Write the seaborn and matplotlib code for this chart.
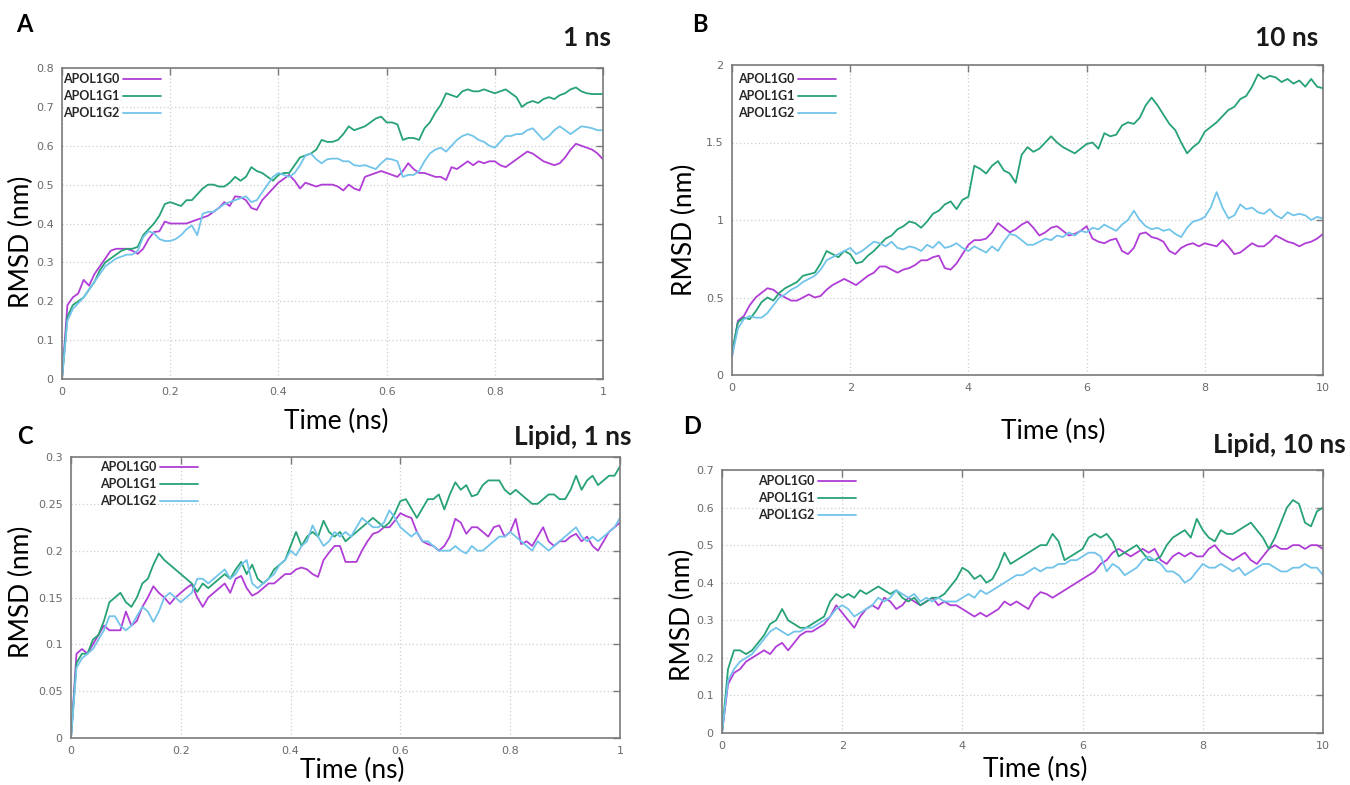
import matplotlib
matplotlib.use("Agg")
import matplotlib.pyplot as plt
import seaborn as sns
from matplotlib.ticker import MultipleLocator, FormatStrFormatter

# ---------------- data ----------------
series_names = ["APOL1G0", "APOL1G1", "APOL1G2"]
series_colors = ["#b03ed6", "#27a274", "#72c4ea"]

time_1ns = [0.00, 0.01, 0.02, 0.03, 0.04, 0.05, 0.06, 0.07, 0.08, 0.09,
            0.10, 0.11, 0.12, 0.13, 0.14, 0.15, 0.16, 0.17, 0.18, 0.19,
            0.20, 0.21, 0.22, 0.23, 0.24, 0.25, 0.26, 0.27, 0.28, 0.29,
            0.30, 0.31, 0.32, 0.33, 0.34, 0.35, 0.36, 0.37, 0.38, 0.39,
            0.40, 0.41, 0.42, 0.43, 0.44, 0.45, 0.46, 0.47, 0.48, 0.49,
            0.50, 0.51, 0.52, 0.53, 0.54, 0.55, 0.56, 0.57, 0.58, 0.59,
            0.60, 0.61, 0.62, 0.63, 0.64, 0.65, 0.66, 0.67, 0.68, 0.69,
            0.70, 0.71, 0.72, 0.73, 0.74, 0.75, 0.76, 0.77, 0.78, 0.79,
            0.80, 0.81, 0.82, 0.83, 0.84, 0.85, 0.86, 0.87, 0.88, 0.89,
            0.90, 0.91, 0.92, 0.93, 0.94, 0.95, 0.96, 0.97, 0.98, 0.99,
            1.00]

time_10ns = [0.0, 0.1, 0.2, 0.3, 0.4, 0.5, 0.6, 0.7, 0.8, 0.9,
             1.0, 1.1, 1.2, 1.3, 1.4, 1.5, 1.6, 1.7, 1.8, 1.9,
             2.0, 2.1, 2.2, 2.3, 2.4, 2.5, 2.6, 2.7, 2.8, 2.9,
             3.0, 3.1, 3.2, 3.3, 3.4, 3.5, 3.6, 3.7, 3.8, 3.9,
             4.0, 4.1, 4.2, 4.3, 4.4, 4.5, 4.6, 4.7, 4.8, 4.9,
             5.0, 5.1, 5.2, 5.3, 5.4, 5.5, 5.6, 5.7, 5.8, 5.9,
             6.0, 6.1, 6.2, 6.3, 6.4, 6.5, 6.6, 6.7, 6.8, 6.9,
             7.0, 7.1, 7.2, 7.3, 7.4, 7.5, 7.6, 7.7, 7.8, 7.9,
             8.0, 8.1, 8.2, 8.3, 8.4, 8.5, 8.6, 8.7, 8.8, 8.9,
             9.0, 9.1, 9.2, 9.3, 9.4, 9.5, 9.6, 9.7, 9.8, 9.9,
             10.0]

# Panel A: protein, 1 ns
a_g0 = [0, 0.19, 0.21, 0.22, 0.255, 0.24, 0.27, 0.29, 0.31, 0.33,
        0.335, 0.335, 0.335, 0.33, 0.322, 0.335, 0.36, 0.378, 0.38, 0.405,
        0.40, 0.40, 0.40, 0.40, 0.405, 0.41, 0.415, 0.42, 0.43, 0.44,
        0.455, 0.445, 0.47, 0.468, 0.46, 0.44, 0.435, 0.46, 0.475, 0.49,
        0.505, 0.515, 0.525, 0.51, 0.49, 0.505, 0.50, 0.495, 0.50, 0.50,
        0.50, 0.495, 0.485, 0.50, 0.49, 0.485, 0.52, 0.525, 0.53, 0.535,
        0.53, 0.525, 0.52, 0.535, 0.555, 0.54, 0.53, 0.53, 0.525, 0.52,
        0.52, 0.512, 0.545, 0.54, 0.55, 0.56, 0.55, 0.56, 0.555, 0.56,
        0.56, 0.55, 0.545, 0.555, 0.565, 0.575, 0.585, 0.58, 0.57, 0.56,
        0.555, 0.55, 0.555, 0.57, 0.59, 0.605, 0.60, 0.595, 0.59, 0.58,
        0.565]
a_g1 = [0, 0.16, 0.19, 0.20, 0.21, 0.23, 0.25, 0.28, 0.30, 0.31,
        0.32, 0.33, 0.335, 0.335, 0.34, 0.37, 0.385, 0.40, 0.42, 0.45,
        0.455, 0.45, 0.445, 0.46, 0.46, 0.475, 0.49, 0.50, 0.50, 0.495,
        0.495, 0.505, 0.52, 0.51, 0.52, 0.545, 0.535, 0.53, 0.52, 0.51,
        0.525, 0.53, 0.53, 0.55, 0.57, 0.575, 0.58, 0.59, 0.615, 0.61,
        0.61, 0.615, 0.63, 0.65, 0.64, 0.645, 0.65, 0.66, 0.67, 0.675,
        0.66, 0.66, 0.655, 0.615, 0.62, 0.62, 0.615, 0.645, 0.66, 0.685,
        0.705, 0.735, 0.73, 0.725, 0.74, 0.745, 0.74, 0.74, 0.745, 0.74,
        0.735, 0.74, 0.745, 0.735, 0.725, 0.70, 0.71, 0.715, 0.71, 0.72,
        0.725, 0.72, 0.73, 0.735, 0.745, 0.75, 0.74, 0.735, 0.733, 0.733,
        0.733]
a_g2 = [0, 0.15, 0.18, 0.195, 0.21, 0.23, 0.25, 0.27, 0.29, 0.30,
        0.31, 0.315, 0.32, 0.32, 0.33, 0.365, 0.38, 0.375, 0.36, 0.355,
        0.355, 0.36, 0.37, 0.385, 0.395, 0.37, 0.425, 0.43, 0.43, 0.44,
        0.45, 0.455, 0.46, 0.465, 0.47, 0.455, 0.46, 0.48, 0.50, 0.52,
        0.53, 0.525, 0.52, 0.53, 0.55, 0.575, 0.58, 0.565, 0.555, 0.565,
        0.567, 0.567, 0.56, 0.56, 0.55, 0.548, 0.55, 0.545, 0.54, 0.555,
        0.567, 0.565, 0.56, 0.52, 0.525, 0.525, 0.535, 0.56, 0.58, 0.59,
        0.595, 0.585, 0.60, 0.615, 0.625, 0.63, 0.625, 0.615, 0.61, 0.60,
        0.595, 0.61, 0.625, 0.625, 0.63, 0.63, 0.64, 0.645, 0.63, 0.615,
        0.625, 0.64, 0.65, 0.64, 0.63, 0.64, 0.65, 0.648, 0.645, 0.64,
        0.64]

# Panel B: protein, 10 ns
b_g0 = [0.12, 0.35, 0.38, 0.45, 0.50, 0.53, 0.56, 0.55, 0.52, 0.50,
        0.48, 0.48, 0.50, 0.52, 0.50, 0.51, 0.55, 0.58, 0.60, 0.62,
        0.60, 0.58, 0.61, 0.64, 0.66, 0.70, 0.70, 0.68, 0.66, 0.68,
        0.69, 0.71, 0.74, 0.74, 0.76, 0.77, 0.69, 0.68, 0.72, 0.78,
        0.84, 0.87, 0.87, 0.88, 0.92, 0.98, 0.95, 0.92, 0.94, 0.97,
        0.99, 0.95, 0.90, 0.92, 0.95, 0.96, 0.93, 0.90, 0.91, 0.93,
        0.96, 0.88, 0.86, 0.85, 0.87, 0.88, 0.80, 0.78, 0.82, 0.91,
        0.92, 0.89, 0.88, 0.86, 0.80, 0.78, 0.82, 0.84, 0.85, 0.83,
        0.85, 0.84, 0.83, 0.87, 0.83, 0.78, 0.79, 0.82, 0.85, 0.83,
        0.83, 0.86, 0.90, 0.88, 0.86, 0.85, 0.83, 0.85, 0.86, 0.88,
        0.91]
b_g1 = [0.15, 0.34, 0.37, 0.36, 0.41, 0.47, 0.50, 0.48, 0.53, 0.56,
        0.58, 0.60, 0.64, 0.65, 0.66, 0.72, 0.80, 0.78, 0.76, 0.80,
        0.78, 0.72, 0.73, 0.77, 0.80, 0.84, 0.88, 0.90, 0.94, 0.96,
        0.99, 0.98, 0.95, 0.99, 1.04, 1.06, 1.10, 1.12, 1.07, 1.13,
        1.15, 1.35, 1.33, 1.30, 1.35, 1.38, 1.32, 1.30, 1.24, 1.42,
        1.47, 1.44, 1.46, 1.50, 1.54, 1.50, 1.47, 1.45, 1.43, 1.46,
        1.49, 1.50, 1.46, 1.56, 1.54, 1.55, 1.61, 1.63, 1.62, 1.66,
        1.74, 1.79, 1.74, 1.68, 1.62, 1.58, 1.50, 1.43, 1.47, 1.50,
        1.57, 1.60, 1.63, 1.67, 1.71, 1.73, 1.78, 1.80, 1.86, 1.94,
        1.91, 1.93, 1.92, 1.89, 1.91, 1.88, 1.90, 1.86, 1.91, 1.86,
        1.85]
b_g2 = [0.12, 0.30, 0.36, 0.38, 0.37, 0.37, 0.40, 0.45, 0.50, 0.52,
        0.55, 0.57, 0.60, 0.62, 0.64, 0.68, 0.74, 0.76, 0.78, 0.80,
        0.82, 0.78, 0.80, 0.83, 0.86, 0.85, 0.83, 0.86, 0.82, 0.81,
        0.83, 0.82, 0.80, 0.84, 0.82, 0.86, 0.82, 0.83, 0.85, 0.82,
        0.80, 0.83, 0.81, 0.79, 0.83, 0.80, 0.86, 0.91, 0.90, 0.87,
        0.84, 0.84, 0.86, 0.88, 0.87, 0.90, 0.89, 0.92, 0.90, 0.93,
        0.92, 0.95, 0.94, 0.97, 0.95, 0.93, 0.97, 1.00, 1.06, 1.00,
        0.96, 0.94, 0.95, 0.93, 0.94, 0.91, 0.89, 0.95, 0.99, 1.00,
        1.02, 1.08, 1.18, 1.08, 1.01, 1.03, 1.10, 1.07, 1.08, 1.05,
        1.04, 1.07, 1.03, 1.01, 1.05, 1.03, 1.04, 1.03, 1.00, 1.02,
        1.01]

# Panel C: lipid, 1 ns
c_g0 = [0, 0.09, 0.095, 0.09, 0.10, 0.11, 0.12, 0.115, 0.115, 0.115,
        0.135, 0.12, 0.125, 0.14, 0.15, 0.162, 0.155, 0.15, 0.143, 0.15,
        0.155, 0.16, 0.164, 0.15, 0.14, 0.15, 0.155, 0.16, 0.165, 0.155,
        0.17, 0.173, 0.16, 0.152, 0.155, 0.16, 0.165, 0.165, 0.17, 0.175,
        0.175, 0.18, 0.182, 0.18, 0.175, 0.172, 0.19, 0.198, 0.205, 0.205,
        0.188, 0.188, 0.188, 0.20, 0.21, 0.218, 0.22, 0.225, 0.225, 0.232,
        0.24, 0.237, 0.235, 0.22, 0.21, 0.207, 0.205, 0.20, 0.205, 0.215,
        0.234, 0.23, 0.218, 0.225, 0.225, 0.22, 0.215, 0.225, 0.227, 0.215,
        0.22, 0.234, 0.207, 0.21, 0.205, 0.215, 0.225, 0.21, 0.205, 0.21,
        0.21, 0.215, 0.218, 0.21, 0.215, 0.205, 0.20, 0.21, 0.22, 0.225,
        0.23]
c_g1 = [0, 0.08, 0.09, 0.09, 0.105, 0.11, 0.125, 0.145, 0.15, 0.155,
        0.145, 0.14, 0.15, 0.165, 0.17, 0.185, 0.197, 0.19, 0.185, 0.18,
        0.175, 0.17, 0.165, 0.156, 0.165, 0.16, 0.165, 0.17, 0.175, 0.17,
        0.18, 0.188, 0.175, 0.185, 0.17, 0.165, 0.17, 0.18, 0.185, 0.19,
        0.205, 0.22, 0.205, 0.215, 0.22, 0.215, 0.232, 0.22, 0.215, 0.22,
        0.21, 0.215, 0.22, 0.225, 0.23, 0.235, 0.23, 0.225, 0.23, 0.24,
        0.253, 0.255, 0.245, 0.235, 0.245, 0.255, 0.255, 0.26, 0.244, 0.26,
        0.273, 0.265, 0.27, 0.258, 0.26, 0.27, 0.275, 0.275, 0.275, 0.265,
        0.26, 0.265, 0.26, 0.255, 0.25, 0.25, 0.255, 0.26, 0.26, 0.255,
        0.255, 0.265, 0.28, 0.265, 0.275, 0.28, 0.27, 0.275, 0.28, 0.28,
        0.29]
c_g2 = [0, 0.075, 0.085, 0.09, 0.095, 0.105, 0.115, 0.13, 0.13, 0.12,
        0.115, 0.12, 0.13, 0.14, 0.135, 0.124, 0.135, 0.15, 0.155, 0.15,
        0.145, 0.15, 0.155, 0.17, 0.17, 0.165, 0.17, 0.175, 0.18, 0.17,
        0.175, 0.185, 0.19, 0.165, 0.16, 0.165, 0.17, 0.175, 0.185, 0.19,
        0.20, 0.195, 0.205, 0.21, 0.227, 0.215, 0.205, 0.21, 0.22, 0.215,
        0.22, 0.215, 0.225, 0.235, 0.23, 0.225, 0.225, 0.23, 0.243, 0.235,
        0.225, 0.22, 0.215, 0.22, 0.21, 0.21, 0.205, 0.20, 0.20, 0.20,
        0.205, 0.20, 0.197, 0.205, 0.20, 0.20, 0.205, 0.21, 0.215, 0.215,
        0.22, 0.215, 0.21, 0.205, 0.20, 0.21, 0.205, 0.20, 0.205, 0.21,
        0.215, 0.22, 0.225, 0.215, 0.21, 0.215, 0.21, 0.215, 0.22, 0.225,
        0.235]

# Panel D: lipid, 10 ns
d_g0 = [0.0, 0.13, 0.16, 0.17, 0.19, 0.20, 0.21, 0.22, 0.21, 0.23,
        0.24, 0.22, 0.24, 0.26, 0.27, 0.27, 0.28, 0.29, 0.31, 0.34,
        0.32, 0.30, 0.28, 0.31, 0.33, 0.34, 0.33, 0.36, 0.35, 0.33,
        0.34, 0.36, 0.35, 0.34, 0.35, 0.36, 0.34, 0.35, 0.34, 0.34,
        0.33, 0.32, 0.31, 0.32, 0.31, 0.32, 0.33, 0.35, 0.34, 0.35,
        0.34, 0.33, 0.36, 0.375, 0.37, 0.36, 0.37, 0.38, 0.39, 0.40,
        0.41, 0.42, 0.43, 0.45, 0.46, 0.48, 0.49, 0.48, 0.47, 0.48,
        0.49, 0.48, 0.49, 0.46, 0.45, 0.47, 0.48, 0.47, 0.48, 0.47,
        0.47, 0.49, 0.50, 0.48, 0.47, 0.46, 0.47, 0.48, 0.46, 0.45,
        0.47, 0.49, 0.50, 0.49, 0.49, 0.50, 0.50, 0.49, 0.50, 0.50,
        0.49]
d_g1 = [0.0, 0.17, 0.22, 0.22, 0.21, 0.22, 0.24, 0.26, 0.29, 0.30,
        0.33, 0.30, 0.29, 0.28, 0.28, 0.29, 0.30, 0.31, 0.35, 0.37,
        0.36, 0.37, 0.36, 0.38, 0.37, 0.38, 0.39, 0.38, 0.37, 0.38,
        0.36, 0.35, 0.36, 0.34, 0.35, 0.36, 0.36, 0.37, 0.39, 0.41,
        0.44, 0.43, 0.41, 0.42, 0.40, 0.41, 0.44, 0.48, 0.45, 0.46,
        0.47, 0.48, 0.49, 0.50, 0.50, 0.53, 0.51, 0.46, 0.47, 0.48,
        0.49, 0.52, 0.53, 0.52, 0.53, 0.51, 0.47, 0.48, 0.49, 0.50,
        0.48, 0.46, 0.46, 0.47, 0.50, 0.52, 0.53, 0.54, 0.52, 0.57,
        0.54, 0.52, 0.51, 0.54, 0.53, 0.53, 0.54, 0.55, 0.56, 0.54,
        0.52, 0.49, 0.52, 0.56, 0.60, 0.62, 0.61, 0.56, 0.55, 0.59,
        0.60]
d_g2 = [0.0, 0.14, 0.17, 0.19, 0.20, 0.21, 0.23, 0.25, 0.27, 0.28,
        0.27, 0.26, 0.27, 0.27, 0.28, 0.28, 0.29, 0.30, 0.31, 0.33,
        0.34, 0.33, 0.31, 0.32, 0.33, 0.34, 0.36, 0.35, 0.36, 0.38,
        0.37, 0.36, 0.37, 0.35, 0.36, 0.35, 0.36, 0.35, 0.35, 0.35,
        0.36, 0.37, 0.36, 0.38, 0.37, 0.38, 0.39, 0.40, 0.41, 0.42,
        0.42, 0.43, 0.44, 0.43, 0.44, 0.44, 0.45, 0.45, 0.46, 0.46,
        0.47, 0.48, 0.48, 0.47, 0.43, 0.45, 0.44, 0.42, 0.43, 0.44,
        0.46, 0.47, 0.46, 0.45, 0.43, 0.43, 0.42, 0.40, 0.41, 0.43,
        0.45, 0.44, 0.44, 0.45, 0.44, 0.43, 0.44, 0.42, 0.43, 0.44,
        0.45, 0.45, 0.44, 0.43, 0.43, 0.44, 0.44, 0.45, 0.44, 0.44,
        0.42]

panel_letters = ["A", "B", "C", "D"]
panel_titles = ["1 ns", "10 ns", "Lipid, 1 ns", "Lipid, 10 ns"]
x_label = "Time (ns)"
y_label = "RMSD (nm)"

# ---------------- layout / style ----------------
W, H = 1350, 785
sns.set_theme(style="white")
plt.rcParams['font.family'] = ['Lato', 'DejaVu Sans']

fig = plt.figure(figsize=(W / 100, H / 100), dpi=100)
fig.patch.set_facecolor("white")


def frac_rect(x0, y0, x1, y1):
    return [x0 / W, 1 - y1 / H, (x1 - x0) / W, (y1 - y0) / H]


def fx(x):
    return x / W


def fy(y):
    return 1 - y / H


panels = [
    dict(t=time_1ns, ys=[a_g0, a_g1, a_g2], box=(62, 68, 603, 379),
         xmax=1, xstep=0.2, ymax=0.8, ystep=0.1,
         letter=(24, 24), title=(611, 38), xlab=(336, 421), ylab=(21, 242),
         leg=(63, 73)),
    dict(t=time_10ns, ys=[b_g0, b_g1, b_g2], box=(732, 65, 1323, 375),
         xmax=10, xstep=2, ymax=2, ystep=0.5,
         letter=(700, 24), title=(1318, 38), xlab=(1053, 431), ylab=(684, 230),
         leg=(738, 73)),
    dict(t=time_1ns, ys=[c_g0, c_g1, c_g2], box=(71, 457, 620, 738),
         xmax=1, xstep=0.2, ymax=0.3, ystep=0.05,
         letter=(25, 436), title=(632, 437), xlab=(352, 770), ylab=(21, 592),
         leg=(100, 461)),
    dict(t=time_10ns, ys=[d_g0, d_g1, d_g2], box=(722, 470, 1323, 733),
         xmax=10, xstep=2, ymax=0.7, ystep=0.1,
         letter=(692, 426), title=(1346, 445), xlab=(1035, 769), ylab=(682, 615),
         leg=(758, 475)),
]

tick_font = ['Liberation Sans Narrow', 'DejaVu Sans']

for i, p in enumerate(panels):
    ax = fig.add_axes(frac_rect(*p["box"]))
    ax.set_facecolor("white")
    for name, color, vals in zip(series_names, series_colors, p["ys"]):
        sns.lineplot(x=p["t"], y=vals, ax=ax, color=color, linewidth=1.3,
                     label=name, estimator=None, sort=False)
    ax.set_xlim(0, p["xmax"])
    ax.set_ylim(0, p["ymax"])
    ax.xaxis.set_major_locator(MultipleLocator(p["xstep"]))
    ax.yaxis.set_major_locator(MultipleLocator(p["ystep"]))
    ax.xaxis.set_major_formatter(FormatStrFormatter('%g'))
    ax.yaxis.set_major_formatter(FormatStrFormatter('%g'))
    ax.grid(True, color="#cfcfcf", linestyle=(0, (1, 2)), linewidth=0.9)
    ax.tick_params(direction="in", length=5, width=1.0, color="#7a7a7a",
                   top=True, right=True, labelsize=8, labelcolor="#6a6a6a",
                   pad=6)
    for lab in ax.get_xticklabels() + ax.get_yticklabels():
        lab.set_family(tick_font)
    for s in ax.spines.values():
        s.set_color("#7a7a7a")
        s.set_linewidth(1.2)
    ax.set_xlabel("")
    ax.set_ylabel("")

    handles, labels = ax.get_legend_handles_labels()
    ax.legend(handles, labels, loc="upper left",
              bbox_to_anchor=(fx(p["leg"][0]), fy(p["leg"][1])),
              bbox_transform=fig.transFigure, frameon=False,
              markerfirst=False, handlelength=3.0, handletextpad=0.3,
              borderpad=0, borderaxespad=0, labelspacing=0.4,
              prop=dict(family=['Lato', 'DejaVu Sans'], weight='bold', size=9))

    fig.text(fx(p["letter"][0]), fy(p["letter"][1]), panel_letters[i],
             fontsize=17, fontweight="bold", ha="center", va="center",
             color="black")
    fig.text(fx(p["title"][0]), fy(p["title"][1]), panel_titles[i],
             fontsize=19, fontweight="bold", ha="right", va="center",
             color="#1a1a1a")
    fig.text(fx(p["xlab"][0]), fy(p["xlab"][1]), x_label,
             fontsize=19, ha="center", va="center", color="black")
    fig.text(fx(p["ylab"][0]), fy(p["ylab"][1]), y_label,
             fontsize=19, ha="center", va="center", rotation=90,
             color="black")

fig.savefig("out.png", dpi=100, facecolor="white")
